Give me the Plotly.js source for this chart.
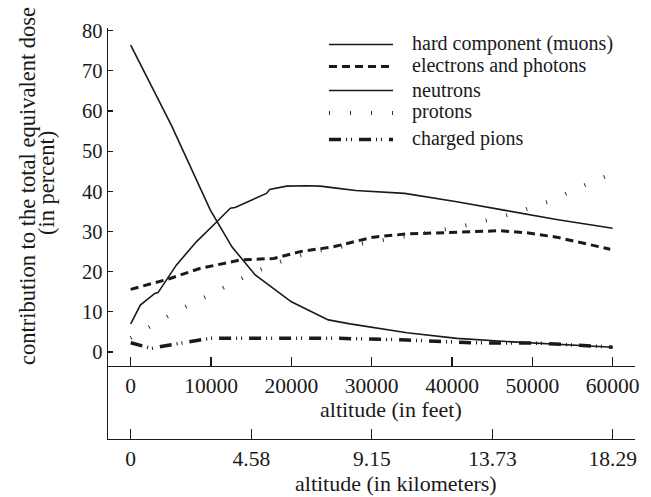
<!DOCTYPE html>
<html>
<head>
<meta charset="utf-8">
<script src="https://cdn.plot.ly/plotly-3.0.1.min.js"></script>
<style>html,body{margin:0;padding:0;background:#fff;}#chart{width:651px;height:497px;}</style>
</head>
<body>
<div id="chart"></div>
<script>
// Altitude (feet) and contribution (percent) for each component
const muonsAlt = [0, 1200, 3000, 3400, 5700, 8200, 10500, 12400, 13000, 16900, 17300, 19400, 21900, 23600, 25600, 28000, 34100, 40600, 46800, 53000, 60000];
const muonsVal = [7.0, 11.7, 14.6, 14.8, 21.7, 27.5, 32.0, 35.8, 36.0, 39.5, 40.5, 41.3, 41.4, 41.3, 40.8, 40.2, 39.5, 37.4, 35.2, 33.0, 30.8];

const electronsAlt = [0, 4900, 8600, 13600, 17800, 21100, 25200, 27300, 30200, 34400, 38500, 42600, 46000, 49300, 53000, 56800, 59700];
const electronsVal = [15.6, 18.3, 20.8, 22.9, 23.3, 25.0, 26.2, 27.2, 28.6, 29.4, 29.7, 30.0, 30.2, 29.7, 28.6, 26.9, 25.6];

const neutronsAlt = [0, 5100, 9900, 12600, 15500, 20000, 24600, 27300, 34400, 40600, 46800, 60000];
const neutronsVal = [76.4, 56.3, 35.4, 26.2, 19.2, 12.5, 8.0, 7.0, 4.8, 3.4, 2.6, 1.2];

const protonsAlt = [0, 3000, 6000, 9000, 12000, 15000, 18000, 21000, 24000, 27700, 32700, 37700, 42650, 47500, 52200, 56800, 59200];
const protonsVal = [3.5, 7.0, 10.5, 13.4, 16.5, 19.5, 22.1, 24.0, 25.5, 26.6, 28.3, 30.0, 31.9, 34.4, 37.6, 41.8, 43.8];

const pionsAlt = [0, 2600, 4700, 9900, 26000, 34400, 42600, 51000, 60000];
const pionsVal = [2.3, 0.9, 1.7, 3.4, 3.4, 3.0, 2.3, 2.2, 1.2];

const feetTicks = [0, 10000, 20000, 30000, 40000, 50000, 60000];
const kmTicks = [0, 4.58, 9.15, 13.73, 18.29];
const kmTickLabels = ['0', '4.58', '9.15', '13.73', '18.29'];
const percentTicks = [0, 10, 20, 30, 40, 50, 60, 70, 80];

const seriesNames = ['hard component (muons)', 'electrons and photons', 'neutrons', 'protons', 'charged pions'];
const yTitleLines = ['contribution to the total equivalent dose', '(in percent)'];
const feetTitle = 'altitude (in feet)';
const kmTitle = 'altitude (in kilometers)';

const FT_PER_KM = 1 / 0.0003048;
const FONT = '"Liberation Serif", "Times New Roman", Times, serif';
const INK = '#1a1a1a';

const lineStyles = [
  {color: INK, width: 1.6},
  {color: INK, width: 3, dash: '8px,5px'},
  {color: INK, width: 1.6},
  {color: '#333', width: 4, dash: '1px,20px'},
  {color: INK, width: 3.5, dash: '12px,5px,1px,4px,1px,7px'}
];

const xs = [muonsAlt, electronsAlt, neutronsAlt, protonsAlt, pionsAlt];
const ys = [muonsVal, electronsVal, neutronsVal, protonsVal, pionsVal];

const traces = seriesNames.map((name, i) => ({
  x: xs[i], y: ys[i], name: name, mode: 'lines', line: lineStyles[i], showlegend: false
}));

const xRange = [-2826, 62778];

// plot-area pixel helpers for hand-laid legend and titles (paper coordinates)
const PL = 108, PW = 527, PB = 439, PH = 411;
const px = v => (v - PL) / PW;
const py = v => (PB - v) / PH;
const legendRows = [44.5, 66.5, 90.5, 113, 139.5];

const titleFont = {family: FONT, size: 22, color: INK};
const shapes = [];
const annotations = [
  {text: yTitleLines[0], xref: 'paper', yref: 'paper', x: px(27), y: py(186),
   xanchor: 'center', yanchor: 'middle', textangle: -90, showarrow: false,
   font: {family: FONT, size: 22.5, color: INK}},
  {text: yTitleLines[1], xref: 'paper', yref: 'paper', x: px(46), y: py(183),
   xanchor: 'center', yanchor: 'middle', textangle: -90, showarrow: false,
   font: {family: FONT, size: 22.5, color: INK}},
  {text: feetTitle, xref: 'paper', yref: 'paper', x: px(391), y: py(409),
   xanchor: 'center', yanchor: 'middle', showarrow: false, font: titleFont},
  {text: kmTitle, xref: 'paper', yref: 'paper', x: px(396), y: py(483),
   xanchor: 'center', yanchor: 'middle', showarrow: false, font: titleFont}
];
seriesNames.forEach((name, i) => {
  shapes.push({type: 'line', xref: 'paper', yref: 'paper',
    x0: px(329), x1: px(393), y0: py(legendRows[i]), y1: py(legendRows[i]), line: lineStyles[i]});
  annotations.push({text: name, xref: 'paper', yref: 'paper', x: px(410), y: py(legendRows[i] - 1),
    xanchor: 'left', yanchor: 'middle', showarrow: false, font: {family: FONT, size: 20, color: INK}});
});

const layout = {
  width: 651, height: 497,
  margin: {l: 108, r: 16, t: 28, b: 58},
  paper_bgcolor: '#fff', plot_bgcolor: '#fff',
  font: {family: FONT, size: 20, color: INK},
  showlegend: false,
  xaxis: {
    range: xRange, anchor: 'free', position: 73 / 411,
    tickmode: 'array', tickvals: feetTicks, ticktext: feetTicks.map(String),
    ticks: 'inside', ticklen: 9, tickwidth: 1.2, tickcolor: INK,
    showline: true, linecolor: INK, linewidth: 1.4, showgrid: false, zeroline: false,
    tickfont: {family: FONT, size: 21.5, color: INK}
  },
  xaxis2: {
    range: xRange, overlaying: 'x', anchor: 'y', side: 'bottom',
    tickmode: 'array', tickvals: kmTicks.map(k => k * FT_PER_KM), ticktext: kmTickLabels,
    ticks: 'inside', ticklen: 10, tickwidth: 1.2, tickcolor: INK,
    showline: true, linecolor: INK, linewidth: 1.4, showgrid: false, zeroline: false,
    tickfont: {family: FONT, size: 21.5, color: INK}
  },
  yaxis: {
    range: [-21.66, 80.68],
    tickmode: 'array', tickvals: percentTicks,
    ticks: 'inside', ticklen: 5, tickwidth: 1.2, tickcolor: INK,
    showline: true, linecolor: INK, linewidth: 1.4, showgrid: false, zeroline: false,
    tickfont: {family: FONT, size: 20.5, color: INK}
  },
  shapes: shapes,
  annotations: annotations
};

// hidden anchor trace so the kilometre axis (xaxis2) is drawn
traces.push({x: [xRange[0]], y: [0], xaxis: 'x2', mode: 'markers', marker: {opacity: 0}, showlegend: false, hoverinfo: 'skip'});

Plotly.newPlot('chart', traces, layout, {staticPlot: true, displayModeBar: false});
</script>
</body>
</html>
